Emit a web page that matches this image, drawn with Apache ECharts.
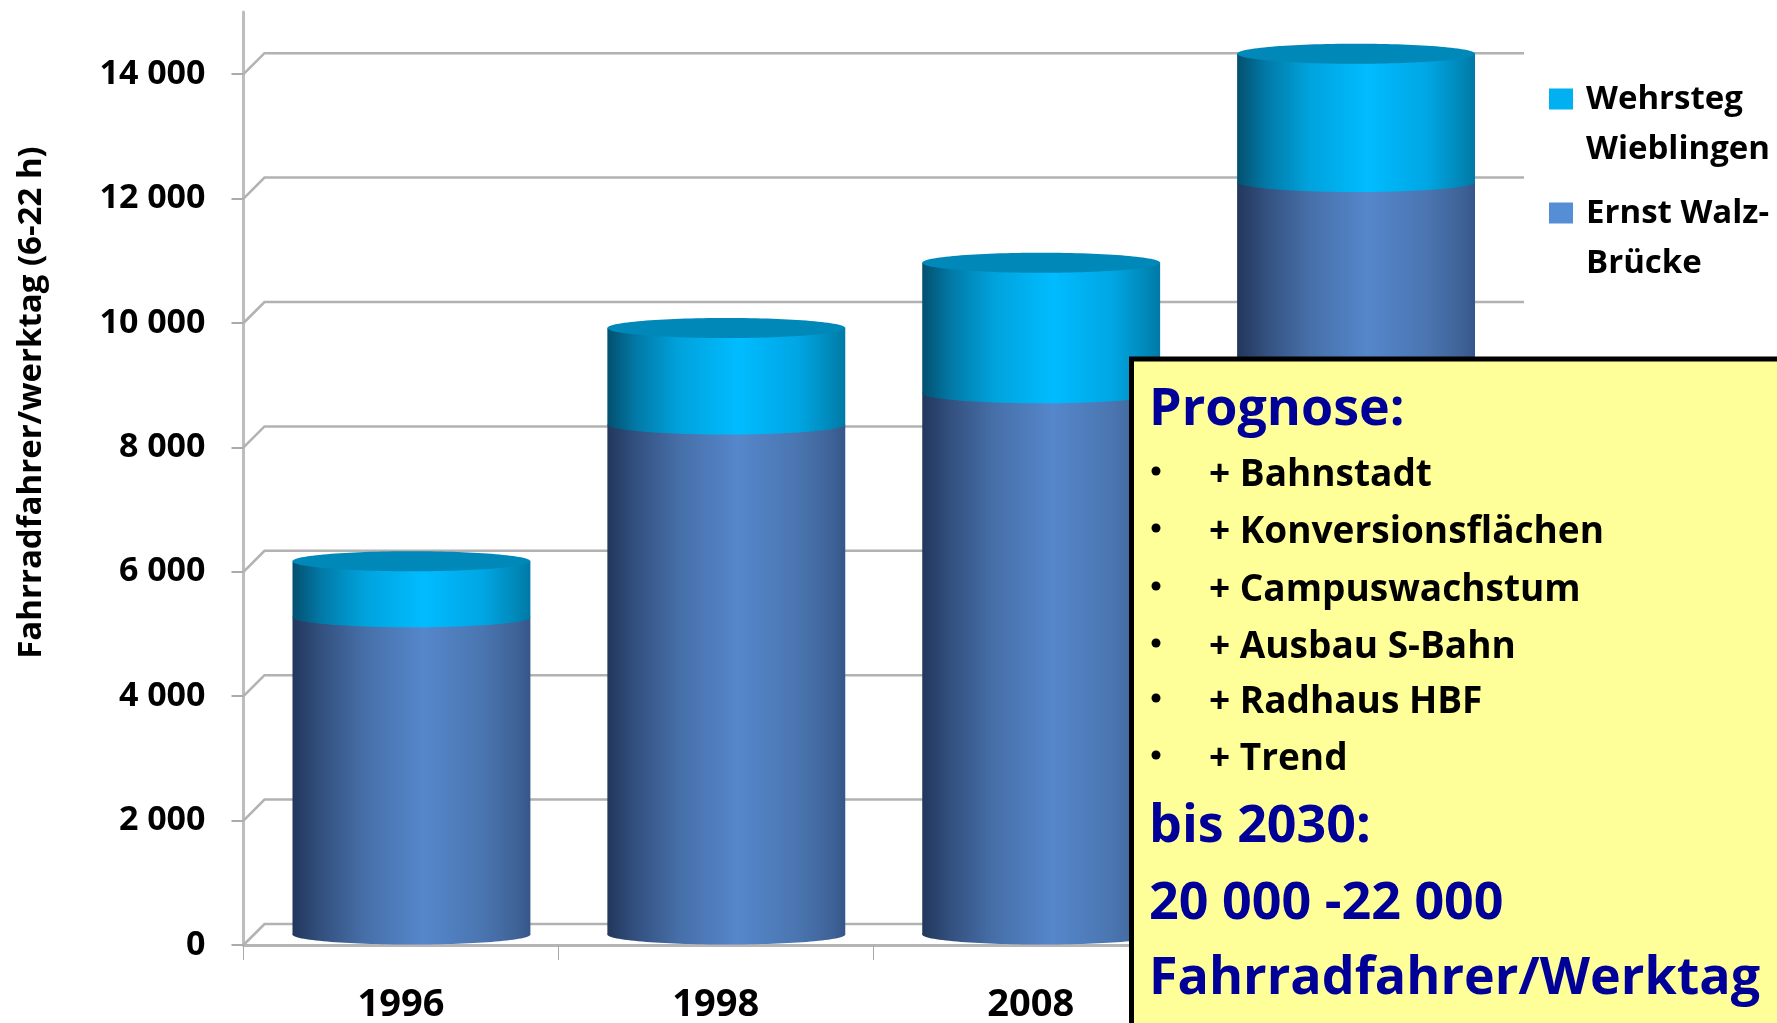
<!DOCTYPE html>
<html><head><meta charset="utf-8">
<style>html,body{margin:0;padding:0;background:#fff}#c{width:1777px;height:1023px}</style>
<script src="https://cdn.jsdelivr.net/npm/echarts@6/dist/echarts.min.js"></script>
</head><body><div id="c"></div>
<script>
const categories = ['1996', '1998', '2008', ''];
const walzName = 'Ernst Walz-\nBrücke';
const wehrName = 'Wehrsteg\nWieblingen';
const walzValues = [5100, 8200, 8700, 12100];
const wehrValues = [900, 1550, 2100, 2060];
const tickValues = [0, 2000, 4000, 6000, 8000, 10000, 12000, 14000];
const axisTitle = 'Fahrradfahrer/werktag (6-22 h)';
const boxHeads = ['Prognose:'];
const boxItems = ['+ Bahnstadt', '+ Konversionsflächen', '+ Campuswachstum', '+ Ausbau S-Bahn', '+ Radhaus HBF', '+ Trend'];
const boxFoot = ['bis 2030:', '20 000 -22 000', 'Fahrradfahrer/Werktag'];

const FONT = '"Open Sans"';
const DEPTH = 21, BAR_RATIO = 238 / 315, RY = 10;
const G = echarts.graphic.LinearGradient;
const walzSide = () => new G(0, 0, 1, 0, [
  { offset: 0, color: '#22375c' }, { offset: 0.12, color: '#33507f' }, { offset: 0.3, color: '#466fa8' },
  { offset: 0.55, color: '#5587cb' }, { offset: 0.8, color: '#4a75b0' }, { offset: 0.94, color: '#3f6398' }, { offset: 1, color: '#36568a' }]);
const wehrSide = () => new G(0, 0, 1, 0, [
  { offset: 0, color: '#03506f' }, { offset: 0.12, color: '#0279a6' }, { offset: 0.3, color: '#00a2dc' },
  { offset: 0.55, color: '#00bcff' }, { offset: 0.8, color: '#00a6e4' }, { offset: 0.94, color: '#0088b8' }, { offset: 1, color: '#0079a5' }]);

function cylinder(params, api, fill, cap) {
  const i = api.value(0), lo = api.value(1), hi = api.value(2);
  const w = api.size([1, 0])[0] * BAR_RATIO, rx = w / 2;
  const cx = api.coord([i, 0])[0] + DEPTH / 2;
  const yLo = api.coord([i, lo])[1] - DEPTH / 2, yHi = api.coord([i, hi])[1] - DEPTH / 2;
  const kids = [
    { type: 'ellipse', shape: { cx, cy: yLo, rx, ry: RY }, style: { fill: fill() } },
    { type: 'rect', shape: { x: cx - rx, y: yHi, width: w, height: yLo - yHi }, style: { fill: fill() } }
  ];
  if (cap) kids.push({ type: 'ellipse', shape: { cx, cy: yHi, rx, ry: RY }, style: { fill: cap } });
  return { type: 'group', children: kids };
}
const legendIcon = 'path://M0 0H24V21H0Z M32 73L32 73Z';
const totals = walzValues.map((v, i) => v + wehrValues[i]);
const textBase = { fontFamily: FONT, textVerticalAlign: 'middle', textAlign: 'left' };
const headStyle = { ...textBase, fill: '#000099', fontWeight: 'bold', fontSize: 52 };
const itemStyle = { ...textBase, fill: '#000', fontWeight: 'bold', fontSize: 37 };
const boxX = 1149, plusX = 1209;
const itemYs = [475, 532, 590, 647, 702, 759];
const footYs = [827, 904, 979];

const graphic = [
  { type: 'rect', z: 100, shape: { x: 1131.5, y: 359, width: 700, height: 700 }, style: { fill: '#ffff99', stroke: '#000', lineWidth: 5 } },
  { type: 'text', z: 101, x: boxX, y: 410, style: { ...headStyle, text: boxHeads[0] } },
  ...boxItems.flatMap((t, k) => [
    { type: 'circle', z: 101, shape: { cx: 1156, cy: itemYs[k] - 4, r: 4.5 }, style: { fill: '#000' } },
    { type: 'text', z: 101, x: plusX, y: itemYs[k], style: { ...itemStyle, text: t } }
  ]),
  ...boxFoot.map((t, k) => ({ type: 'text', z: 101, x: boxX, y: footYs[k], style: { ...headStyle, text: t } }))
];

const chart = echarts.init(document.getElementById('c'), null, { renderer: 'canvas' });
chart.setOption({
  animation: false,
  backgroundColor: '#fff',
  grid: { left: 243.5, right: 274, top: 12, bottom: 78, outerBoundsMode: 'none' },
  legend: {
    data: [wehrName, walzName], orient: 'vertical', left: 1549, top: 75, selectedMode: false,
    padding: 0, icon: legendIcon, itemWidth: 32, itemHeight: 73, itemGap: 14,
    textStyle: { fontFamily: FONT, fontWeight: 'bold', fontSize: 33, lineHeight: 50, color: '#000' }
  },
  xAxis: {
    type: 'category', data: categories,
    axisLine: { lineStyle: { color: '#b5b5b5', width: 3 } },
    axisTick: { show: true, length: 15, alignWithLabel: false, lineStyle: { color: '#a8a8a8', width: 1 } },
    axisLabel: { fontFamily: FONT, fontWeight: 'bold', fontSize: 38, color: '#000', margin: 41 },
    splitLine: { show: false }
  },
  yAxis: {
    type: 'value', min: 0, max: 15000, interval: 2000,
    name: axisTitle, nameLocation: 'middle', nameRotate: 90, nameGap: 195,
    nameTextStyle: { fontFamily: FONT, fontWeight: 'bold', fontSize: 33, color: '#000', padding: [0, 0, 0, 152] },
    axisLine: { show: true, lineStyle: { color: '#bdbdbd', width: 3 } },
    axisTick: { show: true, length: 12, customValues: tickValues, lineStyle: { color: '#ababab', width: 2 } },
    axisLabel: {
      customValues: tickValues, fontFamily: FONT, fontWeight: 'bold', fontSize: 34, color: '#000', margin: 38,
      padding: [5, 0, 0, 0],
      formatter: v => String(v).replace(/\B(?=(\d{3})+$)/g, ' ')
    },
    splitLine: { show: false }
  },
  series: [
    {
      name: 'grid', type: 'custom', z: 1, silent: true, legendHoverLink: false,
      data: tickValues.map(v => [0, v]), encode: { x: 0, y: 1 },
      renderItem(params, api) {
        const y = api.coord([0, api.value(1)])[1];
        const x0 = params.coordSys.x, x1 = x0 + params.coordSys.width;
        return {
          type: 'polyline', shape: { points: [[x0, y], [x0 + DEPTH, y - DEPTH], [x1 + DEPTH, y - DEPTH]] },
          style: { fill: null, stroke: '#b2b2b2', lineWidth: 2.5 }
        };
      }
    },
    {
      name: walzName, type: 'custom', z: 2, itemStyle: { color: '#558ed5' },
      data: walzValues.map((v, i) => [i, 0, v]), encode: { x: 0, y: [1, 2] },
      renderItem: (p, api) => cylinder(p, api, walzSide, null)
    },
    {
      name: wehrName, type: 'custom', z: 3, itemStyle: { color: '#00b0f0' },
      data: walzValues.map((v, i) => [i, v, totals[i]]), encode: { x: 0, y: [1, 2] },
      renderItem: (p, api) => cylinder(p, api, wehrSide, '#0088b8')
    }
  ],
  graphic
});
</script></body></html>
